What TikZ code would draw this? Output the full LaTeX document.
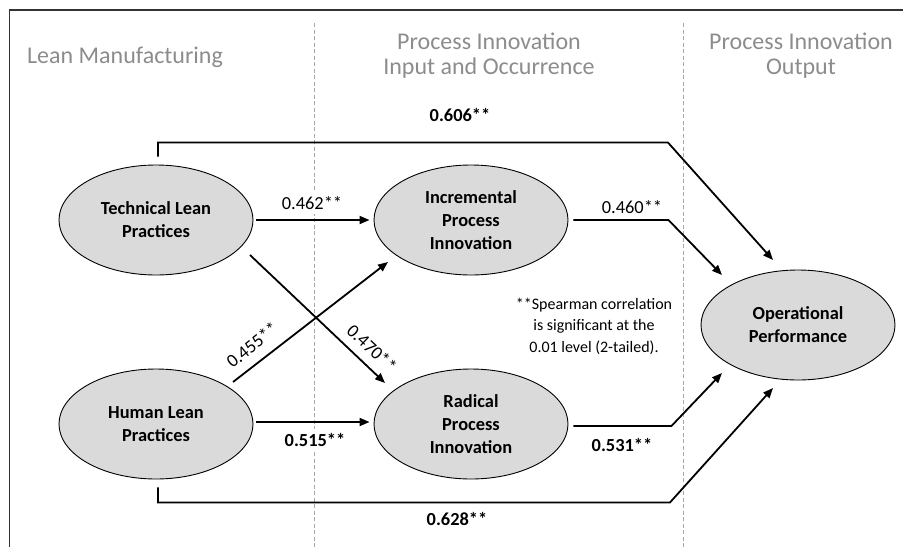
\documentclass[tikz,border=0pt]{standalone}
\usepackage{fontspec}
\setmainfont{Carlito}
\usetikzlibrary{arrows.meta,calc,shapes.geometric}
\definecolor{ovalfill}{HTML}{DADADA}
\definecolor{headgray}{HTML}{8C8C8C}
\definecolor{guide}{HTML}{A8A8A8}
\definecolor{framegray}{HTML}{333333}
\begin{document}
\begin{tikzpicture}[x=1pt,y=-1pt,
  construct/.style={ellipse, draw=black, line width=0.9pt, fill=ovalfill,
    minimum width=194pt, minimum height=110pt, inner sep=0pt, align=center,
    font=\fontsize{18.4}{23}\selectfont\bfseries},
  header/.style={align=center, text=headgray, font=\fontsize{24}{25}\selectfont},
  link/.style={line width=1.8pt, -{Triangle[length=10pt,width=8pt]}},
  coef/.style={font=\fontsize{18.4}{22}\selectfont, inner sep=2pt},
  coefb/.style={coef, font=\fontsize{18.4}{22}\selectfont\bfseries},
  mask/.style={fill=white, inner sep=4pt},
  note/.style={align=center, font=\fontsize{16}{21.5}\selectfont},
  divider/.style={guide, line width=1pt, dash pattern=on 4pt off 2.5pt}]
\useasboundingbox (0,0) rectangle (903,547);

% outer frame (top and left edges)
\draw[framegray, line width=1.5pt] (9.5,547) -- (9.5,10) -- (903,10);

% column dividers
\draw[divider] (314,23) -- (314,547);
\draw[divider] (683,23) -- (683,547);

% column headings
\node[header] (hLean) at (125,57) {Lean Manufacturing};
\node[header] (hInput) at (489,56) {Process Innovation\\Input and Occurrence};
\node[header] (hOutput) at (801,56) {Process Innovation\\Output};

% constructs
\node[construct] (TLP) at (156,220) {Technical Lean\\Practices};
\node[construct] (HLP) at (156,424) {Human Lean\\Practices};
\node[construct] (IPI) at (471,220) {Incremental\\Process\\Innovation};
\node[construct] (RPI) at (471,424) {Radical\\Process\\Innovation};
\node[construct] (OP) at (798,325) {Operational\\Performance};

% paths
\draw[link] ($(TLP.east)+(3,0)$) -- ($(IPI.west)+(-4,0)$);
\draw[link] ($(HLP.east)+(3,-2)$) -- ($(RPI.west)+(-4,-2)$);
\draw[link] ($(TLP)+(94,35)$) -- ($(RPI)+(-86,-41)$);
\draw[link] ($(HLP)+(77,-42)$) -- ($(IPI)+(-83,42)$);
\draw[link] ($(IPI.east)+(5,0)$) -- ++(95,0) -- ($(OP)+(-76,-50)$);
\draw[link] ($(RPI.east)+(5,2)$) -- ++(98,0) -- ($(OP)+(-76,48)$);
\draw[link] ($(TLP.north)+(2,-8)$) -- ++(0,-14) -- ++(510,0) -- ($(OP)+(-25,-65)$);
\draw[link] ($(HLP.south)+(2,8)$) -- ++(0,15) -- ++(512,0) -- ($(OP)+(-25,63)$);

% coefficients
\node[coefb] (c606) at (460,115) {0.606**};
\node[coef, mask] (c462) at (312,203) {0.462**};
\node[coef] (c460) at (632,207) {0.460**};
\node[coef, rotate=39] (c455) at (252,345) {0.455**};
\node[coef, rotate=-43] (c470) at (372,348) {0.470**};
\node[coefb, mask] (c515) at (315,440) {0.515**};
\node[coefb] (c531) at (622,445) {0.531**};
\node[coefb] (c628) at (457,519) {0.628**};

% significance note
\node[note] (sig) at (594,326) {**Spearman correlation\\is significant at the\\0.01 level (2-tailed).};
\end{tikzpicture}
\end{document}
